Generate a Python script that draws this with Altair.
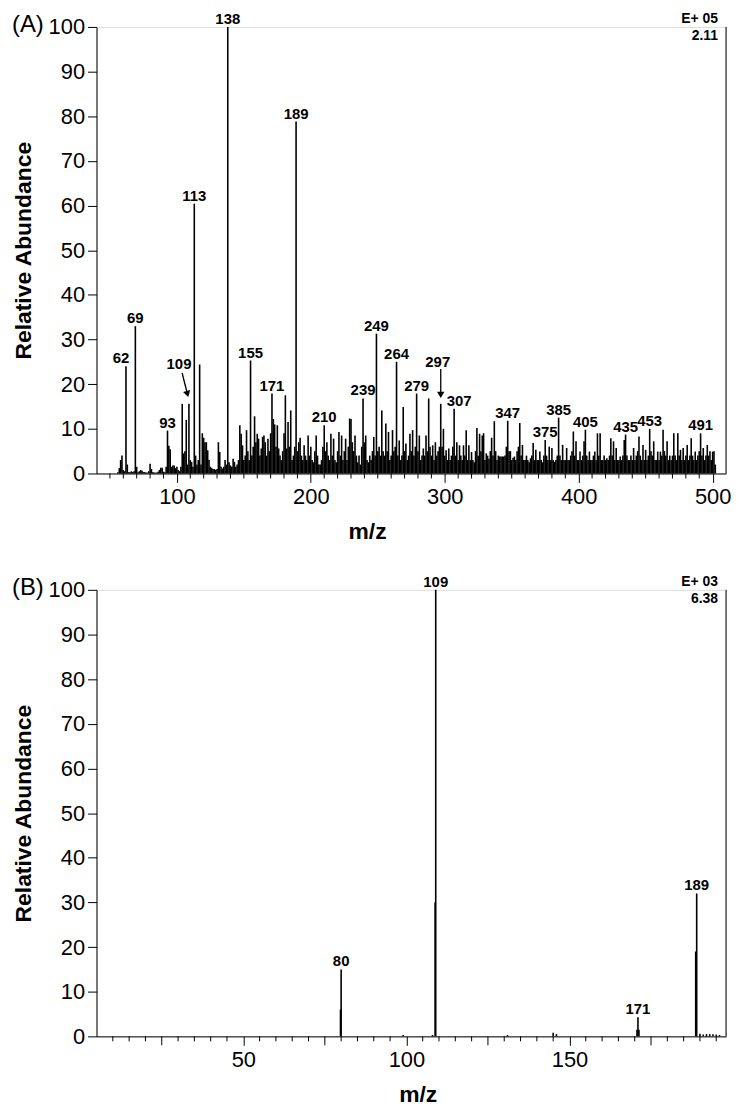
import altair as alt
import pandas as pd

FONT = "Liberation Sans"
W, H = 633, 449

# ---------------- Panel A: relative abundance at each integer m/z ----------------
MZ_A_FIRST = 50
ab_a_050 = [0, 0, 0, 0, 0, 0, 0.3, 1.2, 3, 4,
            0.8, 0.5, 24, 2, 0.3, 0.3, 0.5, 0.3, 0.5, 33,
            1.5, 0.3, 0.5, 0.8, 0.6, 0.3, 0.3, 0.2, 0.2, 0.5,
            2.2, 1, 0.3, 0.2, 0.2, 0.2, 0.4, 0.8, 1.3, 1.3,
            0.4, 0.3, 1.5, 9.6, 6.2, 5.4, 1.5, 1.8, 1.8, 1.2]
ab_a_100 = [1.5, 0.8, 0.5, 1.5, 15.6, 4.5, 5, 12, 2, 15.6,
            3, 2.6, 1.5, 60.4, 4, 2, 3, 24.4, 2, 9,
            8, 7, 7, 5.2, 3, 1.5, 1.2, 1, 1, 0.8,
            1, 7, 4.8, 1.5, 1.1, 1.5, 3, 2, 100, 2.5,
            1.8, 1.5, 3.3, 2.6, 1.5, 2, 3, 10.8, 8.9, 6.3]
ab_a_150 = [3, 4, 9.7, 5, 3, 25.3, 4, 6, 12.8, 7,
            8.9, 7.8, 4, 5.6, 8.2, 8.5, 7, 4, 7.8, 5,
            9, 17.9, 12.2, 11, 6, 10.8, 5.6, 4, 3, 5,
            9, 17.5, 5.6, 11.5, 6, 14.1, 3, 4, 6, 78.8,
            5, 7, 8, 4, 3, 6.3, 4, 3, 8.5, 4]
ab_a_200 = [6, 3, 2.5, 5, 8.5, 4, 2, 2, 3, 6,
            10.8, 5, 7, 4, 3, 8.9, 4, 7.8, 3, 2.5,
            5, 9.3, 4, 8.5, 3, 5, 7.8, 3, 6, 12.3,
            12.2, 7, 5, 8.5, 4, 2.5, 4, 2, 6, 16.8,
            7, 8.5, 3, 2.5, 4, 3, 5, 8.2, 4, 31.3]
ab_a_250 = [5, 6, 4, 14.1, 5, 4, 11.2, 5, 9.3, 3,
            4, 9.7, 5, 6, 25, 4, 7.4, 3, 4, 14.9,
            5, 6.7, 3, 4, 8.9, 5, 9.7, 4, 6, 17.9,
            5, 8.5, 3, 4, 5.6, 4, 8.5, 5, 16.8, 6,
            4, 6.3, 3, 7, 4, 5, 6, 15.6, 6, 10]
ab_a_300 = [4, 5.2, 3, 5.6, 3, 4, 6, 14.5, 4, 7,
            3, 6.3, 4, 3, 6.3, 4, 9.7, 3, 6.3, 3,
            4.8, 3, 2.5, 5, 10.2, 4, 8.9, 5, 8.5, 9,
            3, 4.5, 4, 3.3, 5, 8, 4, 11.7, 5, 3,
            4, 3.8, 3.8, 3.8, 3.8, 4, 6, 11.8, 5, 5]
ab_a_350 = [3, 3.5, 3.8, 3, 5, 6, 11.3, 4, 6.4, 3,
            3, 4, 3, 2.5, 3.4, 4, 6.8, 3, 5.3, 3,
            3, 4.9, 3, 2.5, 4, 7.5, 4, 3, 6, 3,
            5.7, 3, 2.6, 3, 4, 12.5, 4, 3, 6.4, 3,
            3, 5.7, 3, 3, 4, 5, 9.4, 4, 7.2, 3]
ab_a_400 = [3, 4.9, 3, 4, 7.2, 9.8, 4, 3, 4.9, 3,
            3, 4, 4.9, 3, 9, 4, 9, 3, 3, 4,
            3, 3.4, 3, 4, 7.9, 4, 7.2, 3, 5.7, 3,
            3, 3.8, 3, 4, 7.5, 8.7, 4, 3, 3, 4,
            3, 5.7, 3, 4, 5, 8.3, 4, 3, 6.4, 3]
ab_a_450 = [5.3, 3, 4, 10, 5, 4, 7.2, 3, 3, 4.9,
            3, 4.9, 4, 9.8, 5, 4, 7.2, 3, 4, 3,
            4, 9, 4, 3, 9, 4, 5.3, 3, 5.7, 3,
            4, 6.4, 3, 4, 7.9, 4, 3, 4.9, 3, 4,
            5, 9, 4, 5.7, 3, 4, 6.4, 4, 5, 3,
            4.9, 5, 2, 0]
ab_a = (ab_a_050 + ab_a_100 + ab_a_150 + ab_a_200 + ab_a_250 +
        ab_a_300 + ab_a_350 + ab_a_400 + ab_a_450)
mz_a = list(range(MZ_A_FIRST, MZ_A_FIRST + len(ab_a)))

labels_a = [62, 69, 93, 109, 113, 138, 155, 171, 189, 210, 239, 249, 264,
            279, 297, 307, 347, 375, 385, 405, 435, 453, 491]
offsets_a = {62: (-5, -3), 109: (-10, -35), 297: (-3, -37), 307: (5, -3)}
# annotation arrows (tail -> head) pointing at labelled peaks 109 and 297
arrow_a_x = [103.9, 297]
arrow_a_y = [22.5, 23.4]
arrow_a_x2 = [107.9, 297]
arrow_a_y2 = [17.8, 17.6]
arrow_a_angle = [344, 0]

# x-axis tick marks of panel A
ticks_a_labelled = [100, 200, 300, 400, 500]
ticks_a_minor = [v for v in range(50, 501, 10) if v % 100]
ticks_a_mid = []

# ---------------- Panel B ----------------
mz_b = [79.8, 80, 99, 108, 108.8, 109, 131, 145, 146, 170.7, 171, 171.3,
        188.7, 189, 190, 191, 192, 193, 194, 195, 196]
ab_b = [6, 15, 0.3, 0.3, 30, 100, 0.3, 0.8, 0.5, 1.5, 4.3, 1.5,
        19, 32, 0.6, 0.4, 0.5, 0.5, 0.5, 0.4, 0.3]
labels_b = [80, 109, 171, 189]
offsets_b = {}

ticks_b_labelled = [50, 100, 150]
ticks_b_mid = [25, 75, 125, 175]
ticks_b_minor = [v for v in range(10, 196, 5) if v % 25]


def panel(mz, ab, labels, offsets, domain, t_lab, t_mid, t_minor,
          title_x, arrows, exp_lines, letter, stroke):
    df = pd.DataFrame({"mz": mz, "ab": ab})
    xs = alt.Scale(domain=domain, nice=False, zero=False)
    ys = alt.Scale(domain=[0, 100], nice=False, zero=True)
    x_axis = alt.Axis(
        values=t_lab, tickSize=9, labelOverlap=False, labelFontSize=22, labelPadding=4,
        labelColor="black", labelFont=FONT,
        title="m/z", titleFont=FONT, titleFontSize=23, titleFontWeight="bold", titleColor="black",
        titleX=title_x, titleY=47, titleAlign="center", titleBaseline="top",
        domainColor="black", tickColor="black", grid=False)
    y_axis = alt.Axis(
        values=list(range(0, 101, 10)), tickSize=9, labelFontSize=22, labelPadding=3,
        labelColor="black", labelFont=FONT, labelOverlap=False,
        title="Relative Abundance", titleFont=FONT, titleFontSize=23, titleFontWeight="bold",
        titleColor="black", titleAngle=270, titleX=-61, titleY=H / 2, titleAlign="center",
        titleBaseline="bottom", domainColor="black", tickColor="black", grid=False)

    layers = [alt.Chart(df).mark_rule(color="black", strokeWidth=stroke).encode(
        x=alt.X("mz:Q", scale=xs, axis=x_axis),
        y=alt.Y("ab:Q", scale=ys, axis=y_axis),
        y2=alt.datum(0))]

    # unlabelled tick marks below the x axis
    for vals, ln in ((t_minor, 5), (t_mid, 9)):
        if vals:
            layers.append(alt.Chart(pd.DataFrame({"t": vals})).mark_rule(
                color="black", strokeWidth=1).encode(
                x="t:Q", y=alt.value(H), y2=alt.value(H + ln)))

    def lab_layer(ms, dx, dy):
        ldf = pd.DataFrame({"mz": ms, "ab": [ab[mz.index(m)] for m in ms],
                            "txt": [str(m) for m in ms]})
        return alt.Chart(ldf).mark_text(
            align="center", baseline="alphabetic", dx=dx, dy=dy, font=FONT,
            fontSize=15, fontWeight="bold", color="black").encode(
            x="mz:Q", y="ab:Q", text="txt:N")

    plain = [m for m in labels if m not in offsets]
    layers.append(lab_layer(plain, 0, -3))
    for m, (dx, dy) in offsets.items():
        layers.append(lab_layer([m], dx, dy))

    if arrows is not None:
        adf = pd.DataFrame({"x": arrows[0], "y": arrows[1], "x2": arrows[2],
                            "y2": arrows[3], "ang": arrows[4]})
        layers.append(alt.Chart(adf).mark_rule(color="black", strokeWidth=1.3).encode(
            x="x:Q", y="y:Q", x2="x2:Q", y2="y2:Q"))
        layers.append(alt.Chart(adf).mark_point(
            shape="triangle-down", filled=True, size=55, color="black", opacity=1).encode(
            x="x2:Q", y="y2:Q", angle=alt.Angle("ang:Q", scale=None)))

    one = pd.DataFrame({"k": [0]})
    layers.append(alt.Chart(one).mark_rule(color="black", strokeWidth=1).encode(
        x=alt.datum(domain[1]), y=alt.datum(0), y2=alt.datum(100)))
    for txt, dy in zip(exp_lines, [-4, 13]):
        layers.append(alt.Chart(pd.DataFrame({"t": [txt]})).mark_text(
            align="right", baseline="alphabetic", dx=-8, dy=dy, font=FONT, fontSize=14,
            fontWeight="bold", color="black").encode(
            x=alt.datum(domain[1]), y=alt.datum(100), text="t:N"))
    layers.append(alt.Chart(pd.DataFrame({"t": [letter]})).mark_text(
        align="left", baseline="middle", font=FONT, fontSize=24, color="black").encode(
        x=alt.value(-85), y=alt.value(-2), text="t:N"))
    return alt.layer(*layers).properties(width=W, height=H)


pa = panel(mz_a, ab_a, labels_a, offsets_a, [40, 510],
           ticks_a_labelled, ticks_a_mid, ticks_a_minor,
           272, (arrow_a_x, arrow_a_y, arrow_a_x2, arrow_a_y2, arrow_a_angle),
           ["E+ 05", "2.11"], "(A)", 1.6)
pb = panel(mz_b, ab_b, labels_b, offsets_b, [5, 198],
           ticks_b_labelled, ticks_b_mid, ticks_b_minor,
           323, None, ["E+ 03", "6.38"], "(B)", 1.6)

chart = alt.vconcat(pa, pb, spacing=117, bounds="flush").properties(
    padding={"left": 3, "right": 0, "top": 0, "bottom": 0}
).configure_view(stroke=None).configure(background="white")

chart.save("out.html", embed_options={"renderer": "svg", "actions": False})
